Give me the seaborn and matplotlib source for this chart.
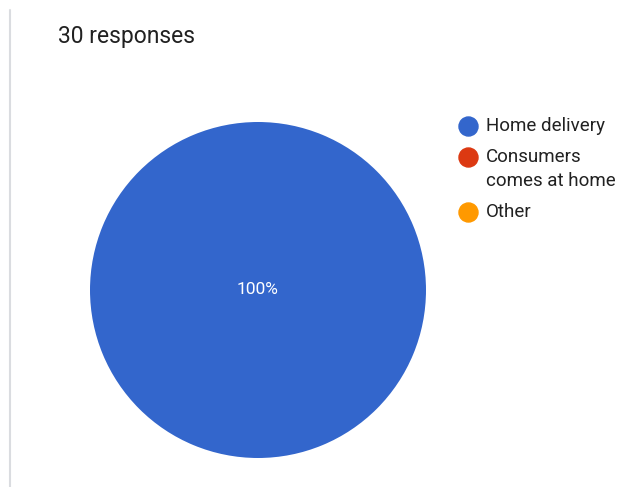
import matplotlib
matplotlib.use("Agg")
import matplotlib.pyplot as plt
from matplotlib.lines import Line2D
import seaborn as sns

categories = ["Home delivery", "Consumers\ncomes at home", "Other"]
responses = [30, 0, 0]
colors = ["#3366cc", "#dc3912", "#ff9900"]
title = "30 responses"

sns.set_theme(style="white")
plt.rcParams["font.family"] = ["Roboto", "DejaVu Sans"]

W, H = 617, 487
fig = plt.figure(figsize=(W / 100, H / 100), dpi=100)
fig.patch.set_facecolor("white")

# pie area: centre (258, 290) px, radius 168 px
cx, cy, r = 258, 290, 168
ax = fig.add_axes([(cx - r) / W, (H - cy - r) / H, 2 * r / W, 2 * r / H])


def pct_label(p):
    return f"{p:.0f}%" if p > 0.5 else ""


wedges, texts, autotexts = ax.pie(
    responses,
    colors=colors,
    startangle=90,
    counterclock=False,
    autopct=pct_label,
    pctdistance=0.0,
    radius=1.0,
    wedgeprops=dict(linewidth=0),
    textprops=dict(color="white", fontsize=12.5),
)
ax.set_xlim(-1.0, 1.0)
ax.set_ylim(-1.0, 1.0)
ax.set_aspect("equal")
ax.axis("off")

# legend on the right: a round swatch beside the first line of each label
marker_x, text_x = 467.5, 486
y = 126
line_step, entry_gap = 24, 7
for label, color in zip(categories, colors):
    lines = label.split("\n")
    fig.add_artist(Line2D([marker_x / W], [1 - y / H], transform=fig.transFigure,
                          linestyle="none", marker="o", markersize=13.7,
                          markerfacecolor=color, markeredgecolor=color))
    for i, line in enumerate(lines):
        fig.text(text_x / W, 1 - (y + i * line_step) / H, line,
                 fontsize=13.5, color="#212121", va="center", ha="left")
    y += line_step * len(lines) + entry_gap

fig.text(58 / W, 1 - 36 / H, title, fontsize=16.5, color="#212121",
         va="center", ha="left")

# thin grey rule along the left edge
fig.add_artist(Line2D([10.5 / W, 10.5 / W], [0, 1 - 10 / H],
                      transform=fig.transFigure, color="#dadce0", linewidth=1.5))

fig.savefig("out.png", dpi=100, facecolor="white")
